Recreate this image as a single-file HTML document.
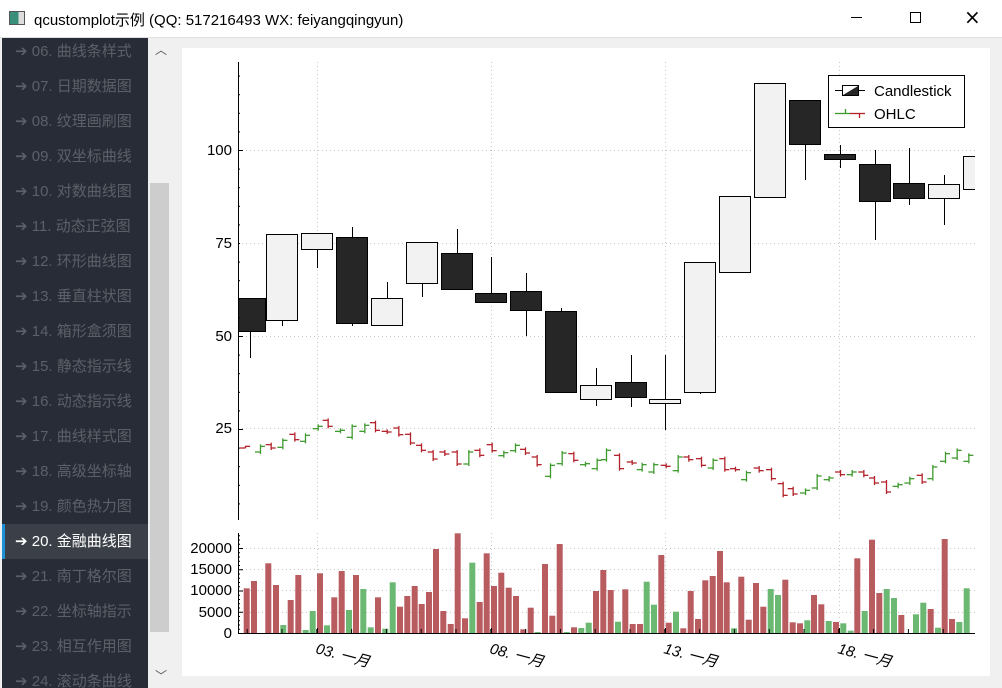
<!DOCTYPE html>
<html><head><meta charset="utf-8"><style>
body{margin:0;width:1002px;height:688px;overflow:hidden;background:#f0f0f0;font-family:"Liberation Sans","Noto Sans CJK SC",sans-serif;position:relative}
#title{position:absolute;left:0;top:0;width:1002px;height:37px;background:#fff;border-bottom:1px solid #e0e0e0}
#title .t{position:absolute;left:34px;top:9px;font-size:15px;color:#000}
#side{position:absolute;left:2px;top:38px;width:146px;height:650px;background:#272c36;overflow:hidden}
.it{position:absolute;left:0;width:146px;height:35px;line-height:35px;font-size:15px;color:#5b6068;padding-left:13px;box-sizing:border-box;white-space:nowrap}
.sel{background:#3b4048;color:#fff;border-left:3px solid #1e90d8;padding-left:10px}
#sb{position:absolute;left:149px;top:38px;width:21px;height:650px;background:#f0f0f0}
#thumb{position:absolute;left:150px;top:183px;width:19px;height:449px;background:#cdcdcd}
#panel{position:absolute;left:182px;top:48px;width:808px;height:628px;background:#fff}
svg{position:absolute;left:0;top:0}
</style></head><body>
<div id="title"><div style="position:absolute;left:9px;top:11px;width:14px;height:12px;border:1px solid #555;background:linear-gradient(90deg,#3a8f7a 60%,#ddd 60%)"></div><div class="t">qcustomplot示例 (QQ: 517216493 WX: feiyangqingyun)</div>
<div style="position:absolute;left:851px;top:17px;width:11px;height:1px;background:#000"></div>
<div style="position:absolute;left:910px;top:12px;width:9px;height:9px;border:1px solid #000"></div>
<div style="position:absolute;left:964px;top:5px;font-size:20px;font-family:'DejaVu Sans'">×</div></div>
<div id="side"></div>
<div id="sb"></div><div id="thumb"></div>
<div style="position:absolute;left:155px;top:41px;font-size:12px;color:#555">︿</div>
<div style="position:absolute;left:155px;top:667px;font-size:12px;color:#555">﹀</div>
<div id="panel"></div>
<svg id="s" width="1002" height="688"></svg>
<script>
var names=["06. 曲线条样式","07. 日期数据图","08. 纹理画刷图","09. 双坐标曲线","10. 对数曲线图","11. 动态正弦图","12. 环形曲线图","13. 垂直柱状图","14. 箱形盒须图","15. 静态指示线","16. 动态指示线","17. 曲线样式图","18. 高级坐标轴","19. 颜色热力图","20. 金融曲线图","21. 南丁格尔图","22. 坐标轴指示","23. 相互作用图","24. 滚动条曲线"];
var sh="";names.forEach(function(n,i){sh+='<div class="it'+(i==14?' sel':'')+'" style="top:'+(i*35-4)+'px">➔ '+n+'</div>'});
document.getElementById('side').innerHTML=sh;
var o="";
function L(x1,y1,x2,y2,c,w,d){o+='<line x1="'+x1+'" y1="'+y1+'" x2="'+x2+'" y2="'+y2+'" stroke="'+c+'" stroke-width="'+(w||1)+'"'+(d?' stroke-dasharray="'+d+'"':'')+'/>'}
function T(x,y,s,a,ex){o+='<text x="'+x+'" y="'+y+'" font-size="15" text-anchor="'+(a||'start')+'" '+(ex||'')+'>'+s+'</text>'}
var gx=[317,491,665,839];
gx.forEach(function(x){L(x+.5,62,x+.5,520,'#c8c8c8',1,'1 3');L(x+.5,533,x+.5,633,'#c8c8c8',1,'1 3')});
[150,243,336,428].forEach(function(y){L(238,y+.5,975,y+.5,'#c8c8c8',1,'1 3')});
[548,569,590,612].forEach(function(y){L(238,y+.5,975,y+.5,'#c8c8c8',1,'1 3')});
var v2=[[200,205,'r'],[222,183,'r'],[265,130,'r'],[288,195,'r'],[310,315,'g'],[332,240,'r'],[355,165,'r'],[377,330,'g'],[398,273,'g'],[420,160,'r'],[441,316,'g'],[463,232,'r'],[485,153,'r'],[507,270,'g'],[528,165,'r'],[550,207,'g'],[572,322,'g'],[594,232,'r'],[616,326,'g'],[638,187,'g'],[660,260,'r'],[682,228,'r'],[704,198,'r'],[725,252,'r'],[747,216,'r'],[768,87,'r'],[790,273,'r'],[812,312,'r'],[833,40,'r'],[855,295,'r'],[877,128,'g'],[899,246,'r'],[920,100,'r'],[942,198,'r'],[964,158,'r'],[986,203,'r'],[1008,228,'r'],[1030,328,'r'],[1052,263,'r'],[1073,337,'g'],[1095,132,'r'],[1117,287,'r'],[1139,72,'r'],[1160,337,'g']];
var v4=[[12,322,'r'],[34,324,'g'],[56,308,'g'],[78,213,'r'],[100,150,'r'],[122,210,'r'],[144,305,'g'],[166,208,'r'],[188,312,'r'],[210,312,'r'],[230,185,'g'],[252,254,'g'],[274,105,'r'],[296,308,'r'],[318,275,'g'],[340,325,'r'],[362,213,'r'],[384,297,'r'],[406,181,'r'],[428,168,'r'],[450,93,'r'],[470,187,'r'],[492,325,'g'],[514,170,'r'],[536,299,'r'],[558,189,'r'],[580,260,'r'],[602,207,'g'],[624,225,'g'],[646,179,'r'],[668,307,'r'],[690,310,'r'],[712,301,'g'],[732,225,'r'],[754,253,'r'],[776,303,'g'],[798,306,'r'],[820,310,'g'],[842,332,'g'],[862,115,'r'],[884,273,'g'],[906,59,'r'],[928,219,'r'],[950,207,'g'],[972,234,'g'],[994,285,'r'],[1038,283,'g'],[1060,248,'g'],[1082,267,'r'],[1104,323,'g'],[1124,57,'r'],[1146,297,'r'],[1168,306,'g'],[1190,205,'g']];
function bar(x,y,c){var t=Math.min(y,632);o+='<rect x="'+(x-3).toFixed(1)+'" y="'+t.toFixed(1)+'" width="6" height="'+(633-t).toFixed(1)+'" fill="'+(c=='r'?'#b85c60':'#6bb872')+'"/>'}
v2.forEach(function(b){bar(180+b[0]/3,520+b[1]/3,b[2])});
v4.forEach(function(b){bar(570+b[0]/3,520+b[1]/3,b[2])});
var cs=[[250,298,331,1,298,358],[282,234,320,0,234,326],[317,233,249,0,233,268],[352,237,323,1,227,326],[387,298,325,0,282,326],[422,242,283,0,242,297],[457,253,289,1,229,289],[491,293,302,1,257,302],[526,291,310,1,273,336],[561,311,392,1,308,392],[596,385,399,0,368,406],[631,382,397,1,355,407],[665,399,403,0,355,430],[700,262,392,0,262,394],[735,196,272,0,196,272],[770,83,197,0,83,197],[805,100,144,1,100,180],[840,154,159,1,145,168],[875,164,201,1,150,240],[909,183,198,1,148,205],[944,184,198,0,175,225],[979,156,189,0,156,189]];
o+='<clipPath id="cp"><rect x="238" y="55" width="737" height="470"/></clipPath><g clip-path="url(#cp)">';
cs.forEach(function(c){L(c[0]+.5,c[4],c[0]+.5,c[5],'#000');o+='<rect x="'+(c[0]-15.5)+'" y="'+(c[1]+.5)+'" width="31" height="'+(c[2]-c[1])+'" fill="'+(c[3]?'#262626':'#f2f2f2')+'" stroke="#000"/>'});
o+='</g>';
var h3=[[45,138,145,'r'],[90,133,162,'g'],[122,128,150,'r'],[157,115,148,'g'],[193,97,125,'r'],[225,100,130,'g'],[263,73,92,'g'],[293,55,85,'r'],[330,85,100,'g'],[365,73,118,'g'],[403,70,100,'g'],[435,62,97,'r'],[470,88,102,'r'],[505,78,110,'r'],[540,97,135,'r'],[573,130,157,'r'],[608,150,183,'r'],[643,150,168,'r'],[680,150,198,'r'],[715,150,198,'g'],[748,145,172,'r'],[785,128,158,'r'],[820,152,173,'g'],[855,130,158,'g'],[885,142,165,'r'],[920,165,200,'r'],[960,190,235,'g'],[995,153,197,'g'],[1030,155,187,'r'],[1065,185,200,'g'],[1100,175,212,'g']];
var h5=[[18,85,125,'g'],[57,100,152,'r'],[95,120,135,'r'],[125,128,155,'g'],[160,128,162,'g'],[197,130,145,'r'],[233,105,158,'g'],[265,105,125,'r'],[303,110,142,'r'],[338,115,150,'g'],[373,110,155,'r'],[405,140,155,'r'],[438,152,185,'g'],[476,138,158,'r'],[513,143,182,'r'],[548,185,232,'r'],[578,200,228,'r'],[615,205,225,'g'],[650,162,210,'g'],[686,168,185,'g'],[720,150,170,'r'],[755,150,170,'g'],[790,150,172,'r'],[822,168,195,'r'],[858,180,222,'r'],[893,188,205,'g'],[928,170,195,'g'],[965,160,192,'r'],[997,135,182,'g'],[1035,95,130,'g'],[1070,85,120,'g'],[1105,100,130,'g']];
function oh(x,a,b,c){var col=c=='r'?'#b3222a':'#3f9a2e';L(x+.5,a,x+.5,b,col,1.3);if(c=='g'){L(x-5,b-2,x,b-2,col,1.3);L(x,a+2,x+5,a+2,col,1.3)}else{L(x-5,a+2,x,a+2,col,1.3);L(x,b-2,x+5,b-2,col,1.3)}}
h3.forEach(function(h){oh(230+h[0]/3,400+h[1]/3,400+h[2]/3,h[3])});
h5.forEach(function(h){oh(600+h[0]/3,420+h[1]/3,420+h[2]/3,h[3])});
L(238.5,62,238.5,520,'#000');L(238.5,533,238.5,633,'#000');L(238,633.5,975,633.5,'#000');
for(var y=150-18.6*4;y<520;y+=18.6){var maj=Math.abs(((150-y)/18.6)%5)<0.01;L(238,y+.5,maj?243:240,y+.5,'#000')}
[[150,'100'],[243,'75'],[336,'50'],[428,'25']].forEach(function(t){T(232,t[0]+5,t[1],'end')});
for(var y=633;y>=535;y-=4.25){var k=Math.round((633-y)/4.25);L(238,y+.5,k%5==0?243:240,y+.5,'#000')}
[[548,'20000'],[569,'15000'],[590,'10000'],[612,'5000'],[633,'0']].forEach(function(t){T(232,t[0]+5,t[1],'end')});
for(var x=247.2;x<975;x+=34.8){L(x,633,x,629,'#000')}
gx.forEach(function(x,i){L(x+.5,633,x+.5,628,'#000');var d=['03','08','13','18'][i];o+='<text x="'+(x-2)+'" y="653" font-size="15" transform="rotate(15 '+(x-2)+' 653)" font-style="italic">'+d+'. 一月</text>'});
o+='<rect x="828.5" y="75.5" width="136" height="52" fill="#fff" stroke="#000"/>';
L(835,90.5,865,90.5,'#000');o+='<rect x="842.5" y="85.5" width="16" height="10" fill="#fff" stroke="#000"/><polygon points="843,95 858,86 858,95" fill="#262626"/>';
L(835,113.5,850,113.5,'#3f9a2e',1.3);L(850,113.5,865,113.5,'#b3222a',1.3);L(845.5,109,845.5,114,'#3f9a2e',1.3);L(859.5,113,859.5,118,'#b3222a',1.3);
T(874,96,'Candlestick');T(874,119,'OHLC');
document.getElementById('s').innerHTML=o;
</script>
</body></html>
